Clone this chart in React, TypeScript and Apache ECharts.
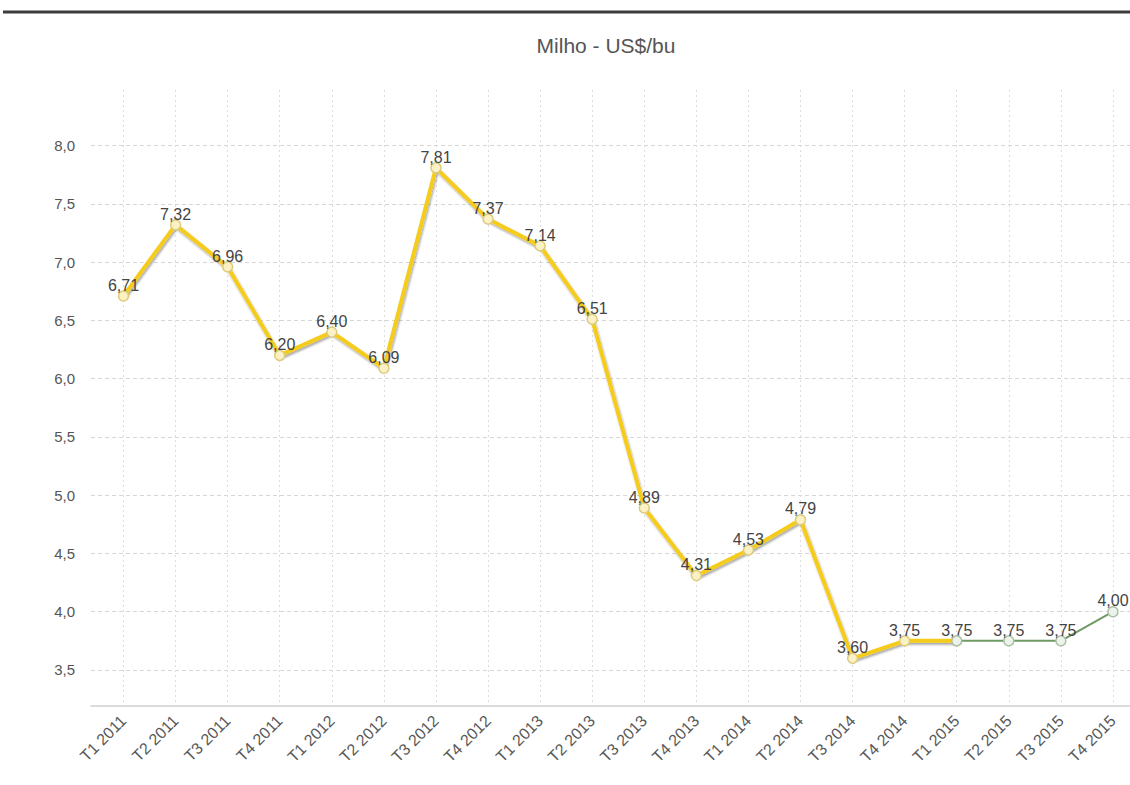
import React, { useEffect, useRef } from "react";
import * as echarts from "echarts";

// Quarterly corn price, US$/bu
const categories = [
  "T1 2011", "T2 2011", "T3 2011", "T4 2011",
  "T1 2012", "T2 2012", "T3 2012", "T4 2012",
  "T1 2013", "T2 2013", "T3 2013", "T4 2013",
  "T1 2014", "T2 2014", "T3 2014", "T4 2014",
  "T1 2015", "T2 2015", "T3 2015", "T4 2015",
];

// Realised prices, T1 2011 .. T1 2015
const realised = [
  6.71, 7.32, 6.96, 6.20, 6.40, 6.09, 7.81, 7.37, 7.14, 6.51,
  4.89, 4.31, 4.53, 4.79, 3.60, 3.75, 3.75,
];

// Projected prices, T1 2015 .. T4 2015
const projected = [3.75, 3.75, 3.75, 4.00];
const projectedStart = 16;

const yTicks = [3.5, 4.0, 4.5, 5.0, 5.5, 6.0, 6.5, 7.0, 7.5, 8.0];

const TITLE = "Milho - US$/bu";
const FONT = "'Liberation Sans', Arial, sans-serif";

const fmt = (v: number) => v.toFixed(2).replace(".", ",");

export default function App() {
  const ref = useRef<HTMLDivElement>(null);

  useEffect(() => {
    if (!ref.current) return;
    const chart = echarts.init(ref.current, null, { renderer: "svg" });

    const realisedData = realised.map((v, i) => [i, v]);
    const projectedData = projected.map((v, i) => [projectedStart + i, v]);
    const xTicks = categories.map((_, i) => i);

    chart.setOption({
      animation: false,
      backgroundColor: "#ffffff",
      textStyle: { fontFamily: FONT },
      graphic: [
        {
          type: "line",
          shape: { x1: 3, y1: 12, x2: 1130, y2: 12 },
          style: { stroke: "#3c3c3c", lineWidth: 3 },
        },
        {
          type: "text",
          x: 606,
          y: 45,
          style: {
            text: TITLE,
            fontFamily: FONT,
            fontSize: 21,
            fill: "#555555",
            textAlign: "center",
            textVerticalAlign: "middle",
          },
        },
      ],
      grid: {
        left: 91,
        top: 90,
        width: 1048,
        height: 616,
        outerBoundsMode: "none",
        containLabel: false,
      },
      xAxis: {
        type: "value",
        min: -0.624,
        max: 19.5,
        axisLine: { show: true, lineStyle: { color: "#cfcfcf", width: 1.5 } },
        axisTick: { show: false, customValues: xTicks },
        axisLabel: {
          customValues: xTicks,
          formatter: (v: number) => categories[Math.round(v)] ?? "",
          rotate: 45,
          margin: 12,
          color: "#585858",
          fontSize: 16,
          fontFamily: FONT,
        },
        splitLine: {
          show: true,
          lineStyle: { color: "#dddddd", type: [2, 3], width: 1 },
        },
      },
      yAxis: {
        type: "value",
        min: 3.191,
        max: 8.478,
        axisLine: { show: false },
        axisTick: { show: false, customValues: yTicks },
        axisLabel: {
          customValues: yTicks,
          formatter: (v: number) => v.toFixed(1).replace(".", ","),
          margin: 16,
          color: "#555555",
          fontSize: 15,
          fontFamily: FONT,
        },
        splitLine: {
          show: true,
          lineStyle: { color: "#d6d6d6", type: [4, 3], width: 1 },
        },
      },
      series: [
        {
          type: "line",
          data: realisedData,
          z: 2,
          lineStyle: {
            color: "#f6cc1c",
            width: 4,
            shadowColor: "rgba(0,0,0,0.35)",
            shadowBlur: 2,
            shadowOffsetX: 1,
            shadowOffsetY: 2,
          },
          symbol: "circle",
          symbolSize: 10,
          itemStyle: { color: "#fbf1c4", borderColor: "#dccb7c", borderWidth: 1.5 },
          label: {
            show: true,
            position: "top",
            distance: -3,
            formatter: (p: any) => fmt(p.value[1]),
            color: "#444444",
            fontSize: 16,
            fontFamily: FONT,
          },
        },
        {
          type: "line",
          data: projectedData,
          z: 3,
          lineStyle: { color: "#6f9a63", width: 2 },
          symbol: "circle",
          symbolSize: 10,
          itemStyle: { color: "#edf3ec", borderColor: "#a9c1a4", borderWidth: 1.5 },
          label: {
            show: true,
            position: "top",
            distance: -3,
            formatter: (p: any) =>
              p.value[0] === projectedStart ? "" : fmt(p.value[1]),
            color: "#444444",
            fontSize: 16,
            fontFamily: FONT,
          },
        },
      ],
    });

    return () => chart.dispose();
  }, []);

  return (
    <div
      ref={ref}
      style={{ position: "absolute", left: 0, top: 0, width: 1130, height: 785 }}
    />
  );
}
